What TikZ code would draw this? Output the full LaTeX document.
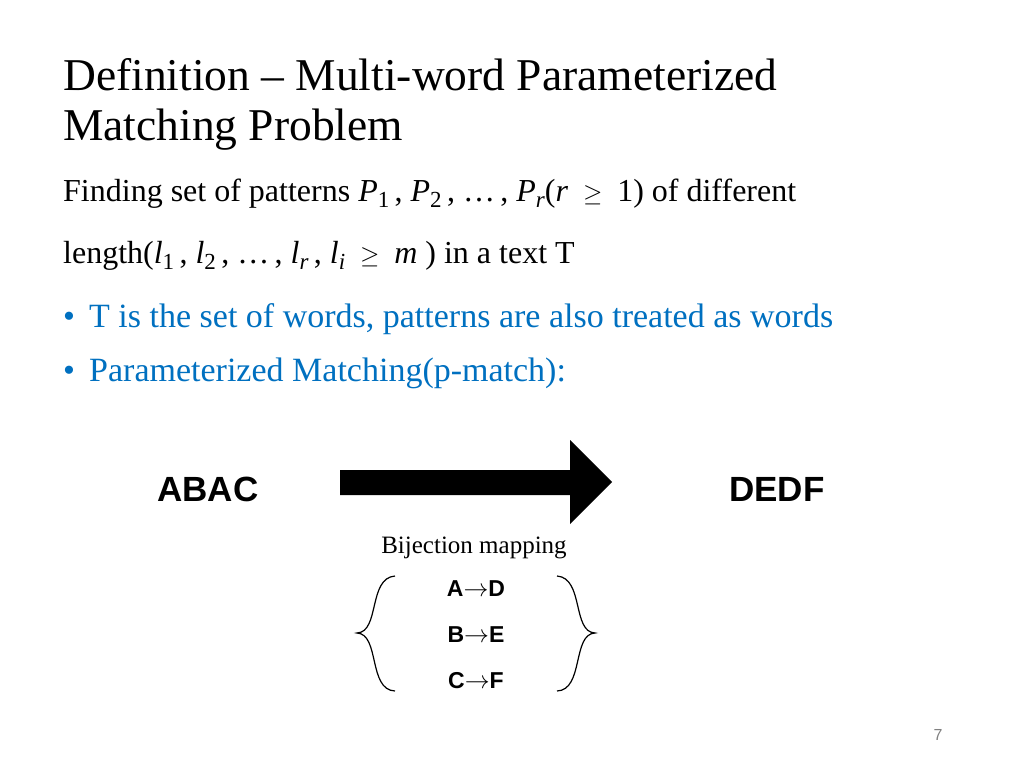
\documentclass[tikz,border=0pt]{standalone}
\usepackage{fontspec}
\setmainfont{Liberation Serif}
\newfontfamily\sansf{Liberation Sans}
\definecolor{blu}{RGB}{0,112,192}
\newcommand{\sbs}[1]{\raisebox{-0.2em}{\fontsize{23}{25}\selectfont #1}}
\begin{document}
\begin{tikzpicture}[x=1pt,y=-1pt,
  txt/.style={anchor=base west,inner sep=0pt,font=\fontsize{32}{38}\selectfont},
  btxt/.style={anchor=base west,inner sep=0pt,text=blu,font=\fontsize{34}{40}\selectfont},
  big/.style={anchor=base,inner sep=0pt,font=\sansf\bfseries\fontsize{35}{40}\selectfont},
  map/.style={anchor=base,inner sep=0pt,font=\sansf\bfseries\fontsize{23}{28}\selectfont}]
\useasboundingbox (0,0) rectangle (1024,768);
\node[txt,font=\fontsize{45.5}{52}\selectfont] (t1) at (63,90) {Definition -- Multi-word Parameterized};
\node[txt,font=\fontsize{45.5}{52}\selectfont] (t2) at (63,140) {Matching Problem};
\node[txt] (l1) at (63,201) {Finding set of patterns \textit{P}\sbs{1}\,, \textit{P}\sbs{2}\,, \dots\,, \textit{P}\sbs{\textit{r}}(\textit{r} ${}\geq{}$ 1) of different};
\node[txt] (l2) at (63,263) {length(\textit{l}\sbs{1}\,, \textit{l}\sbs{2}\,, \dots\,, \textit{l}\sbs{\textit{r}}\,, \textit{l}\sbs{\textit{i}} ${}\geq{}$ \textit{m} ) in a text T};
\node[btxt] (bu1) at (63,327) {\textbullet};
\node[btxt] (b1) at (89,327) {T is the set of words, patterns are also treated as words};
\node[btxt] (bu2) at (63,381) {\textbullet};
\node[btxt] (b2) at (89,381) {Parameterized Matching(p-match):};
\node[big] (abac) at (208,501) {ABAC};
\node[big] (dedf) at (777,501) {DEDF};
\fill (340,470) -- (570,470) -- (570,440) -- (612,482) -- (570,524) -- (570,495) -- (340,495) -- cycle;
\node[anchor=base,inner sep=0pt,font=\fontsize{25}{30}\selectfont] (bij) at (474,553) {Bijection mapping};
\node[map] (m1) at (476,596) {A$\rightarrow$D};
\node[map] (m2) at (476,642) {B$\rightarrow$E};
\node[map] (m3) at (476,688) {C$\rightarrow$F};
\draw[line width=1.2pt] (395,576) .. controls (368,578) and (380,632) .. (357,633) .. controls (380,634) and (368,690) .. (395,691);
\draw[line width=1.2pt] (557,576) .. controls (584,578) and (572,632) .. (595,633) .. controls (572,634) and (584,690) .. (557,691);
\node[anchor=base,inner sep=0pt,text=gray,font=\sansf\fontsize{16}{18}\selectfont] (pg) at (938,740) {7};
\end{tikzpicture}
\end{document}
